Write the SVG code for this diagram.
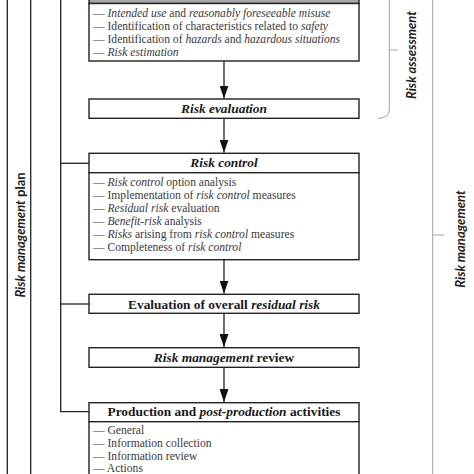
<svg xmlns="http://www.w3.org/2000/svg" width="474" height="474" viewBox="0 0 474 474">
<defs>
<style>
.box{fill:#fff;stroke:#222;stroke-width:1.4}
.hdr{fill:#a8a8a8;stroke:#222;stroke-width:1.4}
.hd{font-family:"Liberation Serif",serif;font-weight:bold;font-size:13.4px;fill:#1a1a1a;text-anchor:middle}
.it{font-family:"Liberation Serif",serif;font-size:11.6px;fill:#3a3a3a}
.i{font-style:italic}
.ln{stroke:#222;stroke-width:1.3;fill:none}
.ar{stroke:#222;stroke-width:1.3;fill:none;marker-end:url(#ah)}
.gl{stroke:#a0a0a0;stroke-width:1;fill:none}
.side{font-family:Lato,"Liberation Sans",sans-serif;font-weight:bold;font-size:13px;fill:#222;text-anchor:middle}
</style>
<marker id="ah" markerUnits="userSpaceOnUse" markerWidth="13" markerHeight="9" viewBox="0 0 13 9" refX="13" refY="4.5" orient="auto">
<path d="M0,0 L13,4.5 L0,9 Z" fill="#111"/>
</marker>
</defs>

<g id="connectors">
<line class="ln" x1="7.3" y1="0" x2="7.3" y2="474"/>
<line class="ln" x1="30.7" y1="0" x2="30.7" y2="474"/>
<path class="ln" d="M60.7,0 V411.7 H89"/>
<line class="ln" x1="60.7" y1="163.3" x2="89" y2="163.3"/>
<line class="ln" x1="60.7" y1="304" x2="89" y2="304"/>
<line class="ar" x1="224" y1="61" x2="224" y2="98.6"/>
<line class="ar" x1="224" y1="118.3" x2="224" y2="152.6"/>
<line class="ar" x1="224" y1="259.7" x2="224" y2="293.6"/>
<line class="ar" x1="224" y1="313.3" x2="224" y2="347"/>
<line class="ar" x1="224" y1="367.3" x2="224" y2="402"/>
<path class="gl" d="M389.3,-1 V110 Q389.3,117.5 378,118.5"/>
<line class="gl" x1="389.3" y1="50" x2="398" y2="50"/>
<line class="gl" x1="432.7" y1="0" x2="432.7" y2="474"/>
<line class="gl" x1="432.7" y1="235" x2="444" y2="235"/>
</g>

<g id="side-labels">
<text class="side" transform="translate(24.5,235) rotate(-90)"><tspan class="i">Risk management</tspan>  plan</text>
<text class="side" transform="translate(416,55) rotate(-90)"><tspan class="i">Risk assessment</tspan></text>
<text class="side" transform="translate(464.5,239) rotate(-90)"><tspan class="i">Risk management</tspan></text>
</g>

<g id="risk-analysis">
<rect class="hdr" x="89" y="-5" width="270" height="8.5"/>
<rect class="box" x="89" y="3.5" width="270" height="57.5"/>
<text class="it" x="93" y="17.3">— <tspan class="i">Intended use</tspan> and <tspan class="i">reasonably foreseeable misuse</tspan></text>
<text class="it" x="93" y="30.3">— Identification of characteristics related to <tspan class="i">safety</tspan></text>
<text class="it" x="93" y="43.3">— Identification of <tspan class="i">hazards</tspan> and <tspan class="i">hazardous situations</tspan></text>
<text class="it" x="93" y="56.3">— <tspan class="i">Risk estimation</tspan></text>
</g>

<g id="risk-evaluation">
<rect class="box" x="89" y="99" width="270" height="19.3"/>
<text class="hd" x="224" y="113"><tspan class="i">Risk evaluation</tspan></text>
</g>

<g id="risk-control">
<rect class="box" x="89" y="153.3" width="270" height="19.4"/>
<text class="hd" x="224" y="167.4"><tspan class="i">Risk control</tspan></text>
<rect class="box" x="89" y="172.7" width="270" height="87"/>
<text class="it" x="93" y="186.2">— <tspan class="i">Risk control</tspan> option analysis</text>
<text class="it" x="93" y="199.2">— Implementation of <tspan class="i">risk control</tspan> measures</text>
<text class="it" x="93" y="212">— <tspan class="i">Residual risk</tspan> evaluation</text>
<text class="it" x="93" y="225.2">— <tspan class="i">Benefit-risk</tspan> analysis</text>
<text class="it" x="93" y="238.2">— <tspan class="i">Risks</tspan> arising from <tspan class="i">risk control</tspan> measures</text>
<text class="it" x="93" y="251.2">— Completeness of <tspan class="i">risk control</tspan></text>
</g>

<g id="overall-residual-risk">
<rect class="box" x="89" y="294.3" width="270" height="19"/>
<text class="hd" x="224" y="308.7">Evaluation of overall <tspan class="i">residual risk</tspan></text>
</g>

<g id="risk-management-review">
<rect class="box" x="89" y="347.7" width="270" height="19.6"/>
<text class="hd" x="224" y="362"><tspan class="i">Risk management</tspan> review</text>
</g>

<g id="production">
<rect class="box" x="89" y="402.7" width="270" height="19"/>
<text class="hd" x="224" y="416.4">Production and <tspan class="i">post-production</tspan> activities</text>
<rect class="box" x="89" y="421.7" width="270" height="60"/>
<text class="it" x="93" y="434.2">— General</text>
<text class="it" x="93" y="447">— Information collection</text>
<text class="it" x="93" y="459.6">— Information review</text>
<text class="it" x="93" y="471.8">— Actions</text>
</g>
</svg>
